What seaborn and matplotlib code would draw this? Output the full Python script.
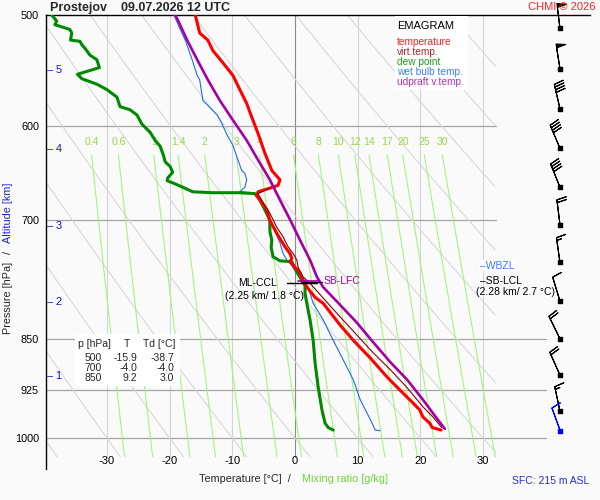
import numpy as np
import matplotlib
matplotlib.use("Agg")
import matplotlib.pyplot as plt
from matplotlib.patches import Rectangle
from matplotlib.ticker import NullLocator
import pandas as pd
import seaborn as sns

# sounding values (p in hPa, temperatures in degC)
temp_p = [500, 515, 521, 530, 540, 552, 565, 578, 591, 607, 627, 645, 655, 661, 664, 668, 672, 680, 688, 700,
          715, 731, 739, 745, 749, 753, 763, 772, 781, 794, 802, 831, 852, 877, 905, 924, 944, 955, 966, 976, 983, 987]
temp_t = [-15.9, -15.2, -13.9, -13.1, -11.6, -9.9, -8.8, -7.7, -6.9, -5.9, -4.8, -3.7, -2.4, -2.7, -4.0, -5.9, -6.1, -5.3, -4.5, -4.0,
          -2.9, -1.6, -0.8, -0.5, -0.8, -0.3, 0.8, 1.3, 1.9, 3.2, 4.5, 7.2, 9.3, 12.0, 14.7, 16.7, 18.8, 19.9, 20.4, 21.5, 21.9, 23.3]

virt_p = [664, 670, 683, 692, 708, 719, 731, 739, 747, 756, 768, 776, 795, 820, 845, 869, 894, 921, 950, 966, 983]
virt_t = [-4.0, -5.9, -4.8, -4.0, -2.9, -1.9, -1.1, -0.3, 0.3, 0.5, 1.3, 2.4, 4.5, 7.2, 9.9, 12.4, 15.2, 17.9, 20.4, 22.0, 23.4]

dew_p = [500, 505, 508, 512, 515, 521, 522, 525, 528, 534, 538, 545, 551, 555, 560, 565, 572, 581, 584, 589,
         598, 606, 614, 620, 629, 636, 641, 647, 653, 656, 658, 663, 668, 669, 669, 670, 677, 688, 700, 708,
         713, 723, 732, 743, 748, 749, 753, 762, 771, 779, 789, 811, 824, 852, 884, 920, 955, 976, 983, 987]
dew_t = [-38.8, -38.0, -38.3, -35.9, -35.6, -35.8, -34.3, -34.0, -33.5, -32.7, -31.6, -31.2, -34.7, -34.0, -31.6, -30.0, -28.4, -27.9, -26.3, -25.2,
         -24.4, -23.1, -22.3, -21.5, -21.0, -20.7, -19.9, -19.5, -20.3, -20.4, -19.6, -17.9, -16.3, -13.1, -8.8, -6.4, -5.6, -4.8, -4.0, -4.0,
         -4.0, -3.7, -3.8, -3.5, -2.4, -0.5, -0.3, 0.3, 1.0, 1.6, 1.6, 2.1, 2.4, 2.9, 3.2, 3.7, 4.3, 4.8, 5.3, 6.1]

wet_p = [500, 512, 521, 538, 552, 556, 575, 589, 598, 609, 619, 634, 645, 648, 655, 663, 668, 669, 677, 688, 700,
         713, 726, 739, 747, 753, 767, 781, 802, 824, 852, 880, 909, 939, 960, 976, 987, 988]
wet_t = [-19.3, -18.3, -17.5, -16.4, -15.6, -15.2, -14.7, -12.4, -11.6, -10.8, -9.9, -9.1, -8.5, -8.0, -7.7, -8.0, -8.8, -6.7, -5.6, -4.8, -4.1,
         -3.2, -2.4, -1.9, -1.3, -0.6, 0.6, 2.1, 2.9, 4.5, 6.1, 7.7, 9.3, 10.4, 11.5, 12.3, 12.8, 13.6]

parcel_p = [500, 504, 521, 538, 556, 575, 594, 614, 634, 655, 677, 699, 723, 747, 768, 781, 804, 828, 854, 883, 909, 939, 968, 985]
parcel_t = [-19.1, -18.7, -17.2, -15.6, -13.9, -12.0, -9.9, -7.7, -5.9, -4.0, -2.4, -0.8, 0.8, 2.4, 3.5, 4.5, 7.2, 9.9, 12.4, 15.2, 17.9, 20.4, 22.6, 23.9]

# table in the lower left corner
table_levels = [500, 700, 850]
table_t = [-15.9, -4.0, 9.2]
table_td = [-38.7, -4.0, 3.0]

# wind barbs every 500 m (direction deg, speed kt)
barb_p = [511, 546, 583, 622, 663, 705, 750, 799, 850, 902, 957]
barb_dir = [353, 351, 347, 337, 338, 353, 352, 343, 334, 336, 348]
barb_spd = [50, 50, 40, 40, 40, 20, 15, 10, 20, 20, 15]
sfc_p, sfc_dir, sfc_spd = 988, 340, 10

alt_km = [1, 2, 3, 4, 5]
alt_p = [903, 800, 706, 623, 547]

mix_ratios = [0.4, 0.6, 1, 1.4, 2, 3, 4, 6, 8, 10, 12, 14, 17, 20, 25, 30]
isotherms = [-30, -20, -10, 0, 10, 20, 30]
isobars = [600, 700, 850, 925, 1000]
isobar_end = [32.06, 32.06, 40.0, 40.0, 40.0]

legend_names = ["temperature", "virt.temp.", "dew point", "wet bulb temp.", "udpraft v.temp."]
legend_colors = ["#ff2020", "#a82828", "#229a22", "#3a80f0", "#b030b0"]

T_LO, T_HI = -39.71, 32.06
P_TOP, P_BOT = 500, 1031
BG = "#fafafa"

sns.set_theme(style="white")
plt.rcParams["font.family"] = ["Liberation Sans", "DejaVu Sans"]


def fig_xy(x, y):
    return x / 600, 1 - y / 500


def td_from_w(w, p):
    e = w * p / (622 + w)
    l = np.log(e / 6.112)
    return 243.5 * l / (17.67 - l)


fig = plt.figure(figsize=(6, 5), dpi=100, facecolor=BG)
ax = fig.add_axes([46 / 600, 1 - 469 / 500, 544 / 600, 454 / 500])
ax.set_facecolor(BG)
ax.set_yscale("log")
ax.set_xlim(T_LO, 47.05)
ax.set_ylim(1052, 500)

for s in ["right", "bottom"]:
    ax.spines[s].set_visible(False)
for s in ["left", "top"]:
    ax.spines[s].set_color("black")
    ax.spines[s].set_linewidth(1.0)

ax.yaxis.set_minor_locator(NullLocator())
ax.set_yticks([500, 600, 700, 850, 925, 1000])
ax.set_yticklabels(["500", "600", "700", "850", "925", "1000"])
ax.tick_params(axis="y", length=0, pad=5, labelsize=7.8, labelcolor="black")
ax.set_xticks([])

# isotherms and isobars
for t in isotherms:
    ax.plot([t, t], [P_TOP, P_BOT], color="#8c8c8c" if t == 0 else "#d4d4d4", lw=0.8, zorder=1)
for p, te in zip(isobars, isobar_end):
    ax.plot([T_LO, te], [p, p], color="#a4a4a4", lw=0.9, zorder=1)

# dry adiabats
pp = np.geomspace(P_TOP, P_BOT, 300)
for th in range(-40, 101, 10):
    tt = (th + 273.15) * (pp / 1000) ** 0.2857 - 273.15
    tt = np.where((tt >= T_LO) & (tt <= T_HI), tt, np.nan)
    ax.plot(tt, pp, color="#d8d8d8", lw=0.8, zorder=1)

# mixing ratio lines
pm = np.geomspace(629, P_BOT, 60)
for w in mix_ratios:
    ax.plot(td_from_w(w, pm), pm, color="#a8f27e", lw=0.8, zorder=1.5)
    ax.text(td_from_w(w, 629), 616, f"{w:g}", color="#9ad64a", fontsize=7.5,
            ha="center", va="center", zorder=2)

# profiles
profiles = [
    (wet_p, wet_t, "#1a6cf0", 0.8, 3),
    (dew_p, dew_t, "#008a00", 2.2, 4),
    (temp_p, temp_t, "#ff0000", 2.2, 5),
    (virt_p, virt_t, "#8b0000", 0.8, 5.5),
    (parcel_p, parcel_t, "#a400a4", 1.9, 6),
]
for p, t, c, lw, z in profiles:
    df = pd.DataFrame({"T": t, "p": p})
    sns.lineplot(data=df, x="T", y="p", sort=False, estimator=None, color=c,
                 lw=lw, ax=ax, zorder=z, legend=False)
ax.set_xlabel("")
ax.set_ylabel("")

# levels
ax.plot([-1.3, 3.5], [776, 776], color="black", lw=1.0, zorder=7)
ax.plot([0.5, 3.7], [773, 773], color="#a400a4", lw=1.2, zorder=7)
ax.plot([1.0, 4.3], [774, 774], color="black", lw=0.8, zorder=7)
ax.text(-2.9, 776, "ML-CCL", ha="right", va="center", fontsize=7.5, color="black", zorder=7)
ax.text(-4.8, 792, "(2.25 km/ 1.8 °C)", ha="center", va="center", fontsize=7.5, color="black", zorder=7)
ax.text(4.5, 773, "SB-LFC", ha="left", va="center", fontsize=7.5, color="#a400a4", zorder=7)
ax.text(29.5, 754, "–WBZL", ha="left", va="center", fontsize=7.5, color="#3a7bf0", zorder=7,
        bbox=dict(facecolor="white", edgecolor="none", pad=0.5))
ax.text(29.5, 773, "–SB-LCL", ha="left", va="center", fontsize=7.5, color="black", zorder=7)
ax.text(35.2, 787, "(2.28 km/ 2.7 °C)", ha="center", va="center", fontsize=7.5, color="black", zorder=7)

# altitude marks
for km, p in zip(alt_km, alt_p):
    ax.text(-39.55, p, f"– {km}", color="#1010e0", fontsize=7.8, ha="left", va="center", zorder=7)

# wind barbs
bx = 42.26
d = np.radians(barb_dir)
u = -np.array(barb_spd) * np.sin(d)
v = -np.array(barb_spd) * np.cos(d)
bsize = dict(spacing=0.11, height=0.38, width=0.16, emptybarb=0.0)
ax.barbs(np.full(len(barb_p), bx), barb_p, u, v, length=6, lw=0.8, color="black",
         sizes=bsize, clip_on=False, zorder=8)
ax.scatter(np.full(len(barb_p), bx), barb_p, marker="s", s=5, color="black", zorder=9, clip_on=False)
ds = np.radians(sfc_dir)
ax.barbs([bx], [sfc_p], [-sfc_spd * np.sin(ds)], [-sfc_spd * np.cos(ds)], length=6, lw=0.8,
         color="#0000ff", sizes=bsize, clip_on=False, zorder=8)
ax.scatter([bx], [sfc_p], marker="s", s=5, color="#0000ff", zorder=9, clip_on=False)

# legend box
x0, y0 = fig_xy(395, 90)
x1, y1 = fig_xy(468, 16)
fig.patches.append(Rectangle((x0, y0), x1 - x0, y1 - y0, transform=fig.transFigure,
                             facecolor="white", edgecolor="none", zorder=3))
fig.text(*fig_xy(397, 26), "EMAGRAM", fontsize=8, color="black", ha="left", va="center", zorder=4)
for i, (name, c) in enumerate(zip(legend_names, legend_colors)):
    fig.text(*fig_xy(397, 42 + 10 * i), name, fontsize=7.3, color=c, ha="left", va="center", zorder=4)

# table box
x0, y0 = fig_xy(75, 386)
x1, y1 = fig_xy(180, 334)
fig.patches.append(Rectangle((x0, y0), x1 - x0, y1 - y0, transform=fig.transFigure,
                             facecolor="white", edgecolor="none", zorder=3))
fig.text(*fig_xy(78, 344), "p [hPa]", fontsize=7.5, ha="left", va="center", zorder=4)
fig.text(*fig_xy(127, 344), "T", fontsize=7.5, ha="center", va="center", zorder=4)
fig.text(*fig_xy(143, 344), "Td [°C]", fontsize=7.5, ha="left", va="center", zorder=4)
for i, (lev, t, td) in enumerate(zip(table_levels, table_t, table_td)):
    y = 358 + 10 * i
    fig.text(*fig_xy(102, y), f"{lev}", fontsize=7.5, ha="right", va="center", zorder=4)
    fig.text(*fig_xy(137, y), f"{t:.1f}", fontsize=7.5, ha="right", va="center", zorder=4)
    fig.text(*fig_xy(174, y), f"{td:.1f}", fontsize=7.5, ha="right", va="center", zorder=4)

# x tick labels
for t in isotherms:
    ax.text(t, 1038, f"{t}", fontsize=8, ha="center", va="center", color="black")

# titles and labels
fig.text(*fig_xy(50, 8), "Prostejov    09.07.2026 12 UTC", fontsize=9, fontweight="bold",
         ha="left", va="center")
fig.text(*fig_xy(596, 7), "CHMI © 2026", fontsize=8, color="#ff2020", ha="right", va="center")
fig.text(*fig_xy(589, 481), "SFC: 215 m ASL", fontsize=7.5, color="#2a2ae6", ha="right", va="center")
fig.text(*fig_xy(291, 479), "Temperature [°C]  /", fontsize=7.8, ha="right", va="center")
fig.text(*fig_xy(302, 479), "Mixing ratio [g/kg]", fontsize=7.8, color="#6fd23c", ha="left", va="center")
fig.text(*fig_xy(8, 298), "Pressure [hPa]", fontsize=7.8, rotation=90, ha="center", va="center")
fig.text(*fig_xy(8, 252), "/", fontsize=7.8, rotation=90, ha="center", va="center")
fig.text(*fig_xy(8, 213), "Altitude [km]", fontsize=7.8, rotation=90, color="#2020e0", ha="center", va="center")

fig.savefig("out.png", dpi=100, facecolor=BG)
